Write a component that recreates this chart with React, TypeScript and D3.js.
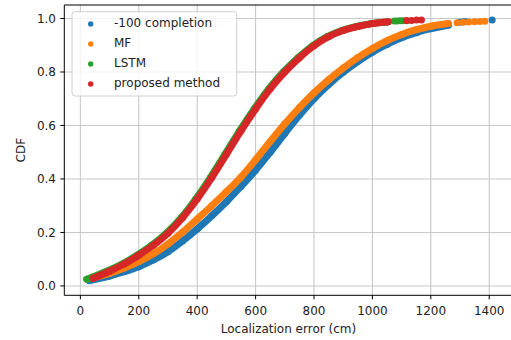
import React from "react";
import * as d3 from "d3";

// ---- data ----
const completionErr = [31, 100, 150, 200, 250, 300, 350, 400, 450, 500, 550, 600, 650, 700, 750, 800, 850, 900, 950, 1000, 1050, 1100, 1150, 1200, 1260];
const completionCdf = [0.02, 0.037, 0.053, 0.072, 0.097, 0.128, 0.168, 0.213, 0.262, 0.315, 0.372, 0.433, 0.5, 0.57, 0.638, 0.7, 0.753, 0.799, 0.839, 0.874, 0.903, 0.928, 0.947, 0.962, 0.975];
const completionTailErr = [1300, 1311, 1320, 1410];
const completionTailCdf = [0.986, 0.988, 0.988, 0.994];

const mfErr = [42, 100, 150, 200, 250, 300, 350, 400, 450, 500, 550, 600, 650, 700, 750, 800, 850, 900, 950, 1000, 1050, 1100, 1150, 1200, 1260];
const mfCdf = [0.03, 0.047, 0.067, 0.091, 0.12, 0.157, 0.201, 0.25, 0.3, 0.352, 0.407, 0.472, 0.54, 0.606, 0.667, 0.722, 0.771, 0.815, 0.854, 0.888, 0.917, 0.94, 0.958, 0.971, 0.981];
const mfTailErr = [1290, 1310, 1330, 1350, 1368, 1385];
const mfTailCdf = [0.984, 0.986, 0.987, 0.988, 0.989, 0.99];

const lstmErr = [22, 90, 143, 194, 244, 294, 345, 395, 445, 495, 545, 595, 645, 695, 745, 795, 845, 895, 945, 995, 1050];
const lstmCdf = [0.025, 0.055, 0.082, 0.115, 0.152, 0.197, 0.255, 0.325, 0.405, 0.492, 0.58, 0.662, 0.737, 0.8, 0.853, 0.898, 0.932, 0.955, 0.97, 0.981, 0.987];
const lstmTailErr = [1075, 1085, 1095, 1105, 1117];
const lstmTailCdf = [0.991, 0.991, 0.992, 0.992, 0.992];

const proposedErr = [44, 100, 150, 200, 250, 300, 350, 400, 450, 500, 550, 600, 650, 700, 750, 800, 850, 900, 950, 1000, 1054];
const proposedCdf = [0.029, 0.055, 0.082, 0.115, 0.152, 0.197, 0.255, 0.325, 0.405, 0.492, 0.58, 0.662, 0.737, 0.8, 0.853, 0.898, 0.932, 0.955, 0.97, 0.981, 0.988];
const proposedTailErr = [1117, 1134, 1151, 1168];
const proposedTailCdf = [0.993, 0.993, 0.994, 0.994];

const seriesNames = ["-100 completion", "MF", "LSTM", "proposed method"];
const seriesColors = ["#1f77b4", "#ff7f0e", "#2ca02c", "#d62728"];
const xTicks = [0, 200, 400, 600, 800, 1000, 1200, 1400];
const yTicks = [0.0, 0.2, 0.4, 0.6, 0.8, 1.0];
const xLabel = "Localization error (cm)";
const yLabel = "CDF";

const bodies = [
  [completionErr, completionCdf],
  [mfErr, mfCdf],
  [lstmErr, lstmCdf],
  [proposedErr, proposedCdf],
];
const tails = [
  [completionTailErr, completionTailCdf],
  [mfTailErr, mfTailCdf],
  [lstmTailErr, lstmTailCdf],
  [proposedTailErr, proposedTailCdf],
];

const W = 511;
const H = 340;
const left = 64.3;
const right = 512.6;
const top = 5;
const bottom = 295.3;
const FONT = "DejaVu Sans, sans-serif";

export default function App() {
  const x = d3.scaleLinear().domain([-55, 1480]).range([left, right]);
  const y = d3.scaleLinear().domain([-0.035, 1.0505]).range([bottom, top]);
  const line = d3
    .line<[number, number]>()
    .x((d) => x(d[0]))
    .y((d) => y(d[1]))
    .curve(d3.curveMonotoneX);

  return (
    <svg
      width={W}
      height={H}
      style={{ position: "absolute", left: 0, top: 0, background: "#fff" }}
      fontFamily={FONT}
    >
      <rect x={0} y={0} width={W} height={H} fill="#fff" />
      <defs>
        <clipPath id="plot">
          <rect x={left} y={top} width={right - left} height={bottom - top} />
        </clipPath>
      </defs>
      {/* grid */}
      <g stroke="#c8c8c8" strokeWidth={1.1}>
        {xTicks.map((t) => (
          <line key={"gx" + t} x1={x(t)} x2={x(t)} y1={top} y2={bottom} />
        ))}
        {yTicks.map((t) => (
          <line key={"gy" + t} x1={left} x2={right} y1={y(t)} y2={y(t)} />
        ))}
      </g>
      {/* data */}
      <g clipPath="url(#plot)">
        {bodies.map(([xs, ys], i) => {
          const pts = xs.map((v, k) => [v, ys[k]] as [number, number]);
          return (
            <g key={"s" + i}>
              <path
                d={line(pts) || ""}
                fill="none"
                stroke={seriesColors[i]}
                strokeWidth={7}
                strokeLinecap="round"
                strokeLinejoin="round"
              />
              {pts.map((p, k) => (
                <circle key={k} cx={x(p[0])} cy={y(p[1])} r={3.5} fill={seriesColors[i]} />
              ))}
              {tails[i][0].map((v, k) => (
                <circle key={"t" + k} cx={x(v)} cy={y(tails[i][1][k])} r={3.5} fill={seriesColors[i]} />
              ))}
            </g>
          );
        })}
      </g>
      {/* spines */}
      <g stroke="#000" strokeWidth={1}>
        <line x1={left} x2={left} y1={top} y2={bottom} />
        <line x1={left} x2={right} y1={bottom} y2={bottom} />
        <line x1={left} x2={right} y1={top} y2={top} />
        <line x1={right} x2={right} y1={top} y2={bottom} />
      </g>
      {/* x ticks */}
      {xTicks.map((t) => (
        <g key={"xt" + t}>
          <line x1={x(t)} x2={x(t)} y1={bottom} y2={bottom + 4} stroke="#000" strokeWidth={1} />
          <text x={x(t)} y={315} textAnchor="middle" fontSize={12} fill="#222">
            {t}
          </text>
        </g>
      ))}
      {/* y ticks */}
      {yTicks.map((t) => (
        <g key={"yt" + t}>
          <line x1={left - 4} x2={left} y1={y(t)} y2={y(t)} stroke="#000" strokeWidth={1} />
          <text x={56} y={y(t) + 4.4} textAnchor="end" fontSize={12} fill="#222">
            {t.toFixed(1)}
          </text>
        </g>
      ))}
      <text x={(left + right) / 2} y={333} textAnchor="middle" fontSize={12} fill="#222">
        {xLabel}
      </text>
      <text
        transform={`translate(24.5, ${(top + bottom) / 2}) rotate(-90)`}
        textAnchor="middle"
        fontSize={12}
        fill="#222"
      >
        {yLabel}
      </text>
      {/* legend */}
      <rect x={72} y={11.7} width={164.7} height={84.3} rx={3} fill="#fff" fillOpacity={0.8} stroke="#d0d0d0" strokeWidth={1} />
      {seriesNames.map((n, i) => (
        <g key={"lg" + i}>
          <circle cx={90.7} cy={24 + i * 20} r={2.7} fill={seriesColors[i]} />
          <text x={114} y={26.8 + i * 20} fontSize={12} fill="#222">
            {n}
          </text>
        </g>
      ))}
    </svg>
  );
}
